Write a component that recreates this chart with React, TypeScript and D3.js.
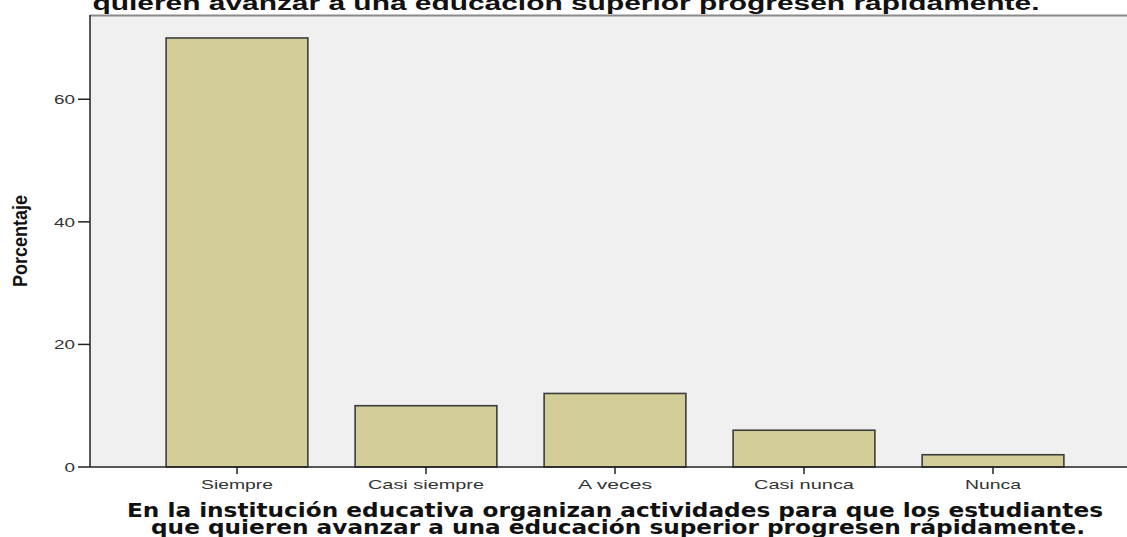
import React from "react";
import * as d3 from "d3";

const categories = ["Siempre", "Casi siempre", "A veces", "Casi nunca", "Nunca"];
const percentages = [70, 10, 12, 6, 2];
const yTicks = [0, 20, 40, 60];
const titleText = "quieren avanzar a una educación superior progresen rápidamente.";
const xTitleLines = [
  "En la institución educativa organizan actividades para que los estudiantes",
  "que quieren avanzar a una educación superior progresen rápidamente.",
];
const yTitle = "Porcentaje";

const W = 1127;
const H = 537;
const plotLeft = 90;
const plotTop = 15;
const plotBottom = 467;
const plotRight = 1127;

// horizontal stretch of the original's text (approx. px per char width factor)
const catLabelWidths = [72, 116, 74, 100, 56];

export default function App() {
  const x = d3
    .scaleBand<string>()
    .domain(categories)
    .range([142.5, 1087.5])
    .paddingInner(0.25)
    .paddingOuter(0.125);
  const y = d3.scaleLinear().domain([0, 73.75]).range([plotBottom, plotTop]);
  const font = "'Liberation Sans', Arial, sans-serif";

  return (
    <svg
      width={W}
      height={H}
      style={{ position: "absolute", left: 0, top: 0, background: "#fff" }}
    >
      <rect x={plotLeft} y={plotTop} width={plotRight - plotLeft} height={plotBottom - plotTop} fill="#F0F0F0" />
      <line x1={plotLeft} x2={plotRight} y1={plotTop + 0.5} y2={plotTop + 0.5} stroke="#8a8a8a" strokeWidth={2} />
      {categories.map((c, i) => (
        <rect
          key={c}
          x={x(c)}
          y={y(percentages[i])}
          width={x.bandwidth()}
          height={plotBottom - y(percentages[i])}
          fill="#D3CE97"
          stroke="#3c3c3c"
          strokeWidth={1.6}
        />
      ))}
      <line x1={plotLeft} x2={plotLeft} y1={plotTop} y2={plotBottom} stroke="#222" strokeWidth={1.5} />
      <line x1={plotLeft} x2={plotRight} y1={plotBottom} y2={plotBottom} stroke="#222" strokeWidth={1.5} />
      {yTicks.map((t) => (
        <g key={t}>
          <line x1={plotLeft - 12} x2={plotLeft} y1={y(t)} y2={y(t)} stroke="#222" strokeWidth={1.5} />
          <text
            x={75}
            y={y(t) + 4.7}
            textAnchor="end"
            fontFamily={font}
            fontSize={13}
            fill="#333"
            textLength={String(t).length * 10.5}
            lengthAdjust="spacingAndGlyphs"
          >
            {t}
          </text>
        </g>
      ))}
      {categories.map((c, i) => {
        const cx = (x(c) as number) + x.bandwidth() / 2;
        return (
          <g key={c}>
            <line x1={cx} x2={cx} y1={plotBottom} y2={plotBottom + 7} stroke="#222" strokeWidth={1.5} />
            <text
              x={cx}
              y={489}
              textAnchor="middle"
              fontFamily={font}
              fontSize={13}
              fill="#333"
              textLength={catLabelWidths[i]}
              lengthAdjust="spacingAndGlyphs"
            >
              {c}
            </text>
          </g>
        );
      })}
      <text
        x={566}
        y={9.5}
        textAnchor="middle"
        fontFamily={font}
        fontWeight="bold"
        fontSize={20}
        fill="#111"
        textLength={947}
        lengthAdjust="spacingAndGlyphs"
      >
        {titleText}
      </text>
      {xTitleLines.map((l, i) => (
        <text
          key={i}
          x={i === 0 ? 615 : 618}
          y={i === 0 ? 516.5 : 534}
          textAnchor="middle"
          fontFamily="'DejaVu Sans', Verdana, sans-serif"
          fontWeight="bold"
          fontSize={19}
          fill="#111"
          textLength={i === 0 ? 976 : 934}
          lengthAdjust="spacingAndGlyphs"
        >
          {l}
        </text>
      ))}
      <text
        transform={`translate(27, 241) rotate(-90)`}
        textAnchor="middle"
        fontFamily="'Liberation Sans Narrow', 'Arial Narrow', sans-serif"
        fontWeight="bold"
        fontSize={21}
        fill="#111"
        textLength={92}
        lengthAdjust="spacingAndGlyphs"
      >
        {yTitle}
      </text>
    </svg>
  );
}
